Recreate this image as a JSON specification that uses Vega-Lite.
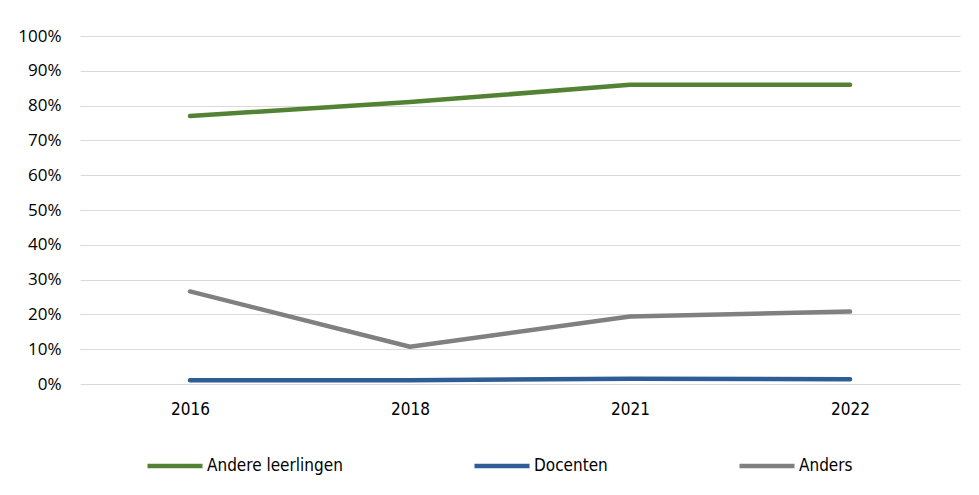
{
  "$schema": "https://vega.github.io/schema/vega-lite/v6.json",
  "width": 880,
  "height": 348,
  "autosize": {"type": "none"},
  "padding": {"left": 80, "top": 36, "right": 19, "bottom": 111},
  "background": "white",
  "data": {
    "values": [
      {"jaar": "2016", "reeks": "Andere leerlingen", "waarde": 0.77},
      {"jaar": "2018", "reeks": "Andere leerlingen", "waarde": 0.81},
      {"jaar": "2021", "reeks": "Andere leerlingen", "waarde": 0.86},
      {"jaar": "2022", "reeks": "Andere leerlingen", "waarde": 0.86},
      {"jaar": "2016", "reeks": "Docenten", "waarde": 0.011},
      {"jaar": "2018", "reeks": "Docenten", "waarde": 0.011},
      {"jaar": "2021", "reeks": "Docenten", "waarde": 0.015},
      {"jaar": "2022", "reeks": "Docenten", "waarde": 0.014},
      {"jaar": "2016", "reeks": "Anders", "waarde": 0.266},
      {"jaar": "2018", "reeks": "Anders", "waarde": 0.107},
      {"jaar": "2021", "reeks": "Anders", "waarde": 0.194},
      {"jaar": "2022", "reeks": "Anders", "waarde": 0.208}
    ]
  },
  "mark": {"type": "line", "strokeWidth": 4.5, "strokeCap": "round", "strokeJoin": "round"},
  "encoding": {
    "x": {
      "field": "jaar",
      "type": "ordinal",
      "scale": {"paddingInner": 0, "paddingOuter": 0.5},
      "axis": {
        "title": null,
        "labelAngle": 0,
        "ticks": false,
        "domain": false,
        "grid": false,
        "labelFont": "DejaVu Sans Condensed",
        "labelFontSize": 17,
        "labelColor": "#000000",
        "labelPadding": 17
      }
    },
    "y": {
      "field": "waarde",
      "type": "quantitative",
      "scale": {"domain": [0, 1]},
      "axis": {
        "title": null,
        "format": ".0%",
        "values": [0, 0.1, 0.2, 0.3, 0.4, 0.5, 0.6, 0.7, 0.8, 0.9, 1],
        "labelOverlap": false,
        "ticks": false,
        "domain": false,
        "gridColor": "#d9d9d9",
        "gridWidth": 1,
        "labelFont": "Open Sans",
        "labelFontSize": 17,
        "labelColor": "#000000",
        "labelPadding": 19
      }
    },
    "color": {
      "field": "reeks",
      "type": "nominal",
      "scale": {
        "domain": ["Andere leerlingen", "Docenten", "Anders"],
        "range": ["#548235", "#2E5C96", "#808080"]
      },
      "legend": {
        "title": null,
        "orient": "none",
        "direction": "horizontal",
        "legendX": 65,
        "legendY": 400,
        "symbolType": "stroke",
        "symbolSize": 3025,
        "symbolStrokeWidth": 4.5,
        "labelFont": "DejaVu Sans Condensed",
        "labelFontSize": 17,
        "labelColor": "#000000",
        "labelOffset": 2,
        "columnPadding": 122
      }
    }
  },
  "config": {
    "view": {"stroke": null}
  }
}
